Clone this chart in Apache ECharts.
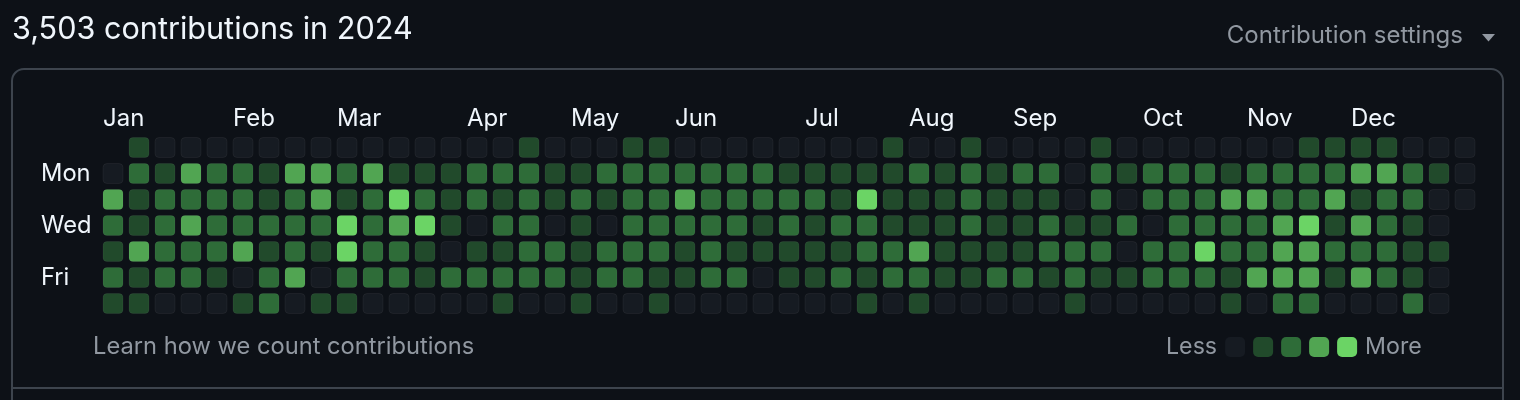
<!DOCTYPE html>
<html>
<head>
<meta charset="utf-8">
<script src="https://cdn.jsdelivr.net/npm/echarts@6/dist/echarts.min.js"></script>
<style>
html,body{margin:0;padding:0;background:#0d1117;}
#c{width:1520px;height:400px;}
</style>
</head>
<body>
<div id="c"></div>
<script>
// ---- texts ----
const headline = '3,503 contributions in 2024';
const settingsText = 'Contribution settings';
const learnText = 'Learn how we count contributions';
const legendEnds = ['More', 'Less'];

// ---- tick labels ----
const dayLabels = ['', 'Mon', '', 'Wed', '', 'Fri', ''];
const monthLabels = ['Jan', 'Feb', 'Mar', 'Apr', 'May', 'Jun', 'Jul', 'Aug', 'Sep', 'Oct', 'Nov', 'Dec'];
const monthStartWeeks = [0, 5, 9, 14, 18, 22, 27, 31, 35, 40, 44, 48];

// ---- contribution levels (0..4), one array per weekday, 53 weeks; null = no day ----
const sun = [null,1,0,0,0,0,0,0,0, 0,0,0,0,0,0,0,1,0, 0,0,1,1,0,0,0,0,0, 0,0,0,1,0,0,1,0,0, 0,0,1,0,0,0,0,0, 0,0,1,1,1,1,0,0,0];
const mon = [0,2,1,3,2,2,1,3,3, 2,3,1,1,1,2,2,2,1, 1,2,2,2,2,2,2,2,1, 1,1,1,1,2,1,2,1,2, 2,0,2,1,2,2,2,1, 2,2,2,2,3,3,2,1,0];
const tue = [3,1,2,2,2,2,1,2,3, 1,2,4,2,1,2,1,2,1, 2,1,2,2,3,2,2,2,2, 2,1,4,1,1,1,2,1,1, 1,0,2,0,2,2,2,3, 3,2,2,3,1,2,2,0,0];
const wed = [2,1,2,3,2,2,2,2,2, 4,2,3,4,1,0,2,2,0, 1,0,2,2,2,2,2,1,2, 1,2,2,1,1,1,2,1,1, 2,1,1,2,0,2,2,2, 2,3,4,1,3,2,1,0,null];
const thu = [1,3,2,2,2,3,1,2,1, 4,2,2,1,0,1,1,2,2, 1,2,2,2,1,2,1,1,1, 1,1,2,2,3,1,1,1,1, 2,2,2,0,2,2,4,2, 2,3,3,2,2,2,1,1,null];
const fri = [2,1,2,2,1,0,2,3,0, 2,2,2,1,2,2,2,2,2, 1,2,2,1,1,2,2,0,1, 1,2,1,2,2,1,1,2,2, 1,2,1,1,2,2,2,1, 3,3,3,1,3,2,1,0,null];
const sat = [1,1,0,0,0,1,2,0,1, 1,0,0,0,0,0,1,0,0, 1,0,0,1,0,0,0,0,0, 0,0,1,0,1,0,0,0,0, 0,1,0,0,0,0,0,1, 0,2,2,0,0,0,2,0,null];
const weekdays = [sun, mon, tue, wed, thu, fri, sat];

const levelColors = ['#161b22', '#214a2b', '#2e6c38', '#51a552', '#6bd465'];

// ---- build ----
const weekCount = sun.length;
const weekCats = Array.from({length: weekCount}, (_, i) => String(i));
const monthTicks = weekCats.map((_, i) => {
  const k = monthStartWeeks.indexOf(i);
  return k >= 0 ? monthLabels[k] : '';
});
const cells = [];
weekdays.forEach((row, d) => {
  row.forEach((v, w) => { if (v !== null) cells.push([w, d, v]); });
});

const FONT = 'Inter, "Noto Sans", sans-serif';
const WHITE = '#f0f6fc';
const GRAY = '#9198a1';
const BORDER = '#3d444d';

const chart = echarts.init(document.getElementById('c'), null, {renderer: 'canvas'});
chart.setOption({
  backgroundColor: '#0d1117',
  animation: false,
  textStyle: {fontFamily: FONT},
  title: [
    {text: headline, left: 12, top: 10, padding: 0,
     textStyle: {color: WHITE, fontSize: 30.6, fontWeight: 'normal', fontFamily: FONT, lineHeight: 40}},
    {text: settingsText, right: 57, top: 21, padding: 0,
     textStyle: {color: GRAY, fontSize: 24, fontWeight: 'normal', fontFamily: FONT, lineHeight: 30}},
    {text: learnText, left: 93, top: 332, padding: 0,
     textStyle: {color: GRAY, fontSize: 23.7, fontWeight: 'normal', fontFamily: FONT, lineHeight: 30}}
  ],
  graphic: [
    {type: 'rect', silent: true, z: -1,
     shape: {x: 12, y: 69, width: 1491, height: 420, r: 12},
     style: {fill: 'none', stroke: BORDER, lineWidth: 2}},
    {type: 'line', silent: true, z: -1,
     shape: {x1: 12, y1: 388, x2: 1503, y2: 388},
     style: {stroke: BORDER, lineWidth: 2}},
    {type: 'polygon', silent: true,
     shape: {points: [[1482, 34], [1495, 34], [1488.5, 41.5]]},
     style: {fill: GRAY}}
  ],
  grid: [
    {left: 100, top: 134.5, width: 1378, height: 182, containLabel: false},
    {left: 90, top: 134.5, width: 1378, height: 182, containLabel: false}
  ],
  xAxis: [
    {type: 'category', gridIndex: 0, data: weekCats, show: false},
    {type: 'category', gridIndex: 1, data: monthTicks, position: 'top',
     axisLine: {show: false}, axisTick: {show: false}, splitLine: {show: false},
     axisLabel: {interval: 0, align: 'left', verticalAlign: 'middle', margin: 16,
       color: WHITE, fontSize: 24, fontFamily: FONT, lineHeight: 24}}
  ],
  yAxis: [
    {type: 'category', gridIndex: 0, data: dayLabels, inverse: true,
     axisLine: {show: false}, axisTick: {show: false}, splitLine: {show: false},
     axisLabel: {interval: 0, align: 'left', margin: 59, color: WHITE, fontSize: 23.7, fontFamily: FONT}},
    {type: 'category', gridIndex: 1, data: dayLabels, show: false}
  ],
  visualMap: {
    type: 'piecewise', orient: 'horizontal', dimension: 2, seriesIndex: 0,
    left: 1166, top: 335.5, itemWidth: 20, itemHeight: 20, itemGap: 8,
    itemSymbol: 'roundRect', showLabel: false, hoverLink: false, selectedMode: false,
    text: legendEnds, padding: 0,
    textStyle: {color: GRAY, fontSize: 23.2, fontFamily: FONT, lineHeight: 18},
    pieces: levelColors.map((c, i) => ({value: i, color: c}))
  },
  series: [{
    type: 'custom', xAxisIndex: 0, yAxisIndex: 0,
    encode: {x: 0, y: 1},
    data: cells,
    renderItem: function (params, api) {
      const c = api.coord([api.value(0), api.value(1)]);
      const s = api.size([1, 1]);
      const w = s[0] * 20 / 26, h = s[1] * 20 / 26;
      return {
        type: 'rect',
        shape: {x: c[0] - w / 2, y: c[1] - h / 2, width: w, height: h, r: 4},
        style: {fill: api.visual('color'), stroke: 'rgba(255,255,255,0.05)', lineWidth: 1}
      };
    }
  }]
});
</script>
</body>
</html>
